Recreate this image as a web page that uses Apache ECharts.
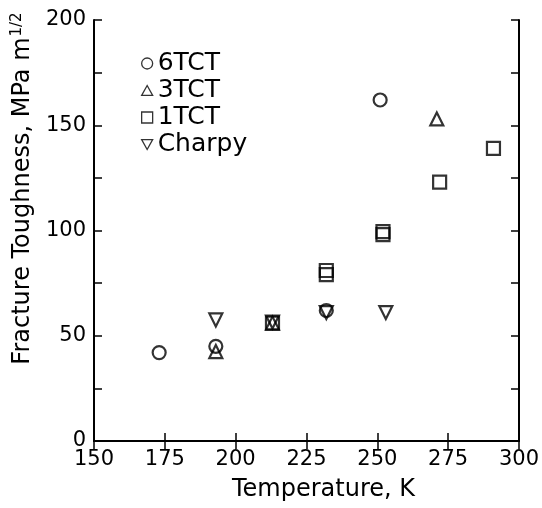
<!DOCTYPE html>
<html>
<head>
<meta charset="utf-8">
<script src="https://cdn.jsdelivr.net/npm/echarts@6/dist/echarts.min.js"></script>
<style>
html,body{margin:0;padding:0;background:#fff;}
#c{width:542px;height:508px;}
</style>
</head>
<body>
<div id="c"></div>
<script>
// Data
const seriesNames = ['6TCT', '3TCT', '1TCT', 'Charpy'];
const data6TCT = [[173, 42], [193, 45], [232, 62], [251, 162]];
const data3TCT = [[193, 42.5], [213, 56], [271, 153]];
const data1TCT = [[213, 56], [232, 81], [232, 79], [252, 99.5], [252, 98], [272, 123], [291, 139]];
const dataCharpy = [[193, 57.5], [213, 56.5], [232, 61], [253, 61]];
const xTicks = [150, 175, 200, 225, 250, 275, 300];
const yTicks = [0, 50, 100, 150, 200];

const FONT = 'DejaVu Sans';
const chart = echarts.init(document.getElementById('c'), null, {renderer: 'canvas'});

const markerStyle = {color: 'rgba(255,255,255,0)', borderColor: '#000', borderWidth: 2.2};

function mk(name, data, symbol) {
  return {
    name: name, type: 'scatter', data: data, symbol: symbol, symbolSize: 13,
    xAxisIndex: 0, yAxisIndex: 0,
    itemStyle: markerStyle
  };
}

const axisCommon = {
  axisLine: {show: true, lineStyle: {color: '#000', width: 2}},
  axisTick: {show: true, inside: true, length: 8, lineStyle: {color: '#000', width: 1.5}},
  splitLine: {show: false}
};

const option = {
  animation: false,
  backgroundColor: '#fff',
  grid: {left: 94, right: 21, top: 20, bottom: 67},
  legend: {
    orient: 'vertical', left: 136, top: 46, itemGap: 2,
    itemWidth: 11, itemHeight: 11,
    itemStyle: {borderWidth: 1.3},
    textStyle: {fontFamily: FONT, fontSize: 25, lineHeight: 24, color: '#000'},
    data: seriesNames
  },
  xAxis: [
    Object.assign({}, axisCommon, {
      type: 'value', min: xTicks[0], max: xTicks[xTicks.length - 1], interval: 25,
      position: 'bottom',
      name: 'Temperature, K', nameLocation: 'middle', nameGap: 37,
      nameTextStyle: {fontFamily: FONT, fontSize: 24, color: '#000', padding: [0, 0, 0, 34]},
      axisLabel: {fontFamily: FONT, fontSize: 21, color: '#000', margin: 8}
    }),
    Object.assign({}, axisCommon, {
      type: 'value', min: xTicks[0], max: xTicks[xTicks.length - 1], interval: 25,
      position: 'top', axisLabel: {show: false}
    })
  ],
  yAxis: [
    Object.assign({}, axisCommon, {
      type: 'value', min: yTicks[0], max: yTicks[yTicks.length - 1], interval: 25,
      position: 'left',
      name: '{m|Fracture Toughness, MPa m}{s|1/2}', nameLocation: 'middle', nameGap: 49, nameRotate: 90,
      nameTextStyle: {
        padding: [0, 0, 0, 84],
        rich: {
          m: {fontFamily: FONT, fontSize: 24, color: '#000'},
          s: {fontFamily: FONT, fontSize: 15, color: '#000', padding: [0, 0, 12, 1]}
        }
      },
      axisLabel: {
        fontFamily: FONT, fontSize: 21, color: '#000', margin: 8,
        formatter: function (v) { return yTicks.indexOf(v) >= 0 ? String(v) : ''; }
      }
    }),
    Object.assign({}, axisCommon, {
      type: 'value', min: yTicks[0], max: yTicks[yTicks.length - 1], interval: 25,
      position: 'right', axisLabel: {show: false}
    })
  ],
  series: [
    mk(seriesNames[0], data6TCT, 'circle'),
    mk(seriesNames[1], data3TCT, 'path://M5,0L10,9L0,9Z'),
    mk(seriesNames[2], data1TCT, 'rect'),
    mk(seriesNames[3], dataCharpy, 'path://M0,0L10,0L5,9Z')
  ]
};
chart.setOption(option);
</script>
</body>
</html>
